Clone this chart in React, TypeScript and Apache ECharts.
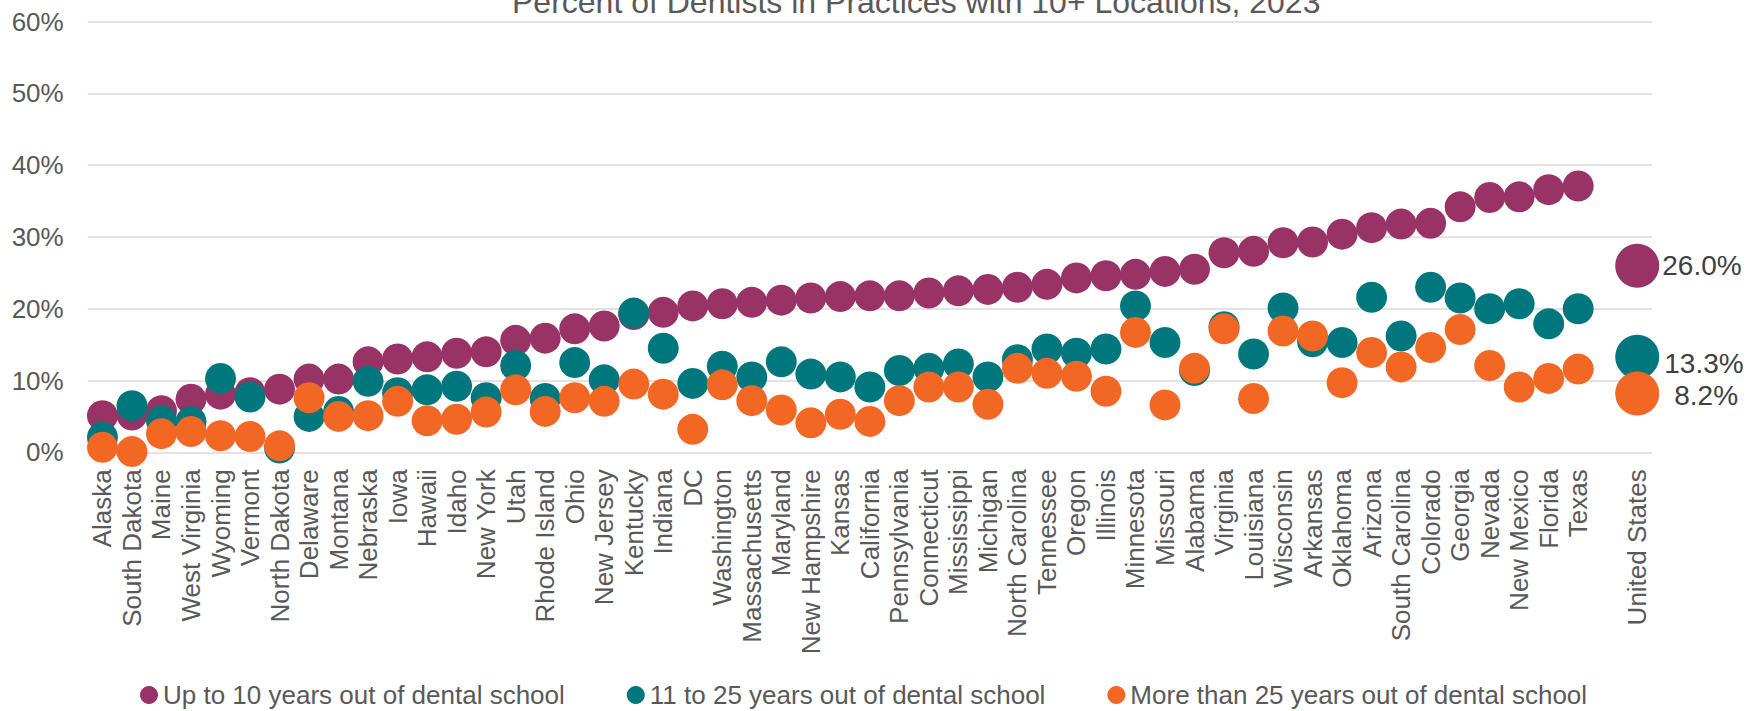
import React, { useEffect, useRef } from "react";
import * as echarts from "echarts";

const states = [
  "Alaska", "South Dakota", "Maine", "West Virginia", "Wyoming", "Vermont", "North Dakota",
  "Delaware", "Montana", "Nebraska", "Iowa", "Hawaii", "Idaho", "New York", "Utah",
  "Rhode Island", "Ohio", "New Jersey", "Kentucky", "Indiana", "DC", "Washington",
  "Massachusetts", "Maryland", "New Hampshire", "Kansas", "California", "Pennsylvania",
  "Connecticut", "Mississippi", "Michigan", "North Carolina", "Tennessee", "Oregon",
  "Illinois", "Minnesota", "Missouri", "Alabama", "Virginia", "Louisiana", "Wisconsin",
  "Arkansas", "Oklahoma", "Arizona", "South Carolina", "Colorado", "Georgia", "Nevada",
  "New Mexico", "Florida", "Texas",
];
const totalLabel = "United States";

const seriesNames = [
  "Up to 10 years out of dental school",
  "11 to 25 years out of dental school",
  "More than 25 years out of dental school",
];

const upTo10 = [
  5.1, 5.2, 5.8, 7.4, 8.1, 8.3, 8.8, 10.2, 10.2, 12.6, 13.0, 13.3, 13.8, 14.0, 15.6,
  15.9, 17.2, 17.6, 19.2, 19.5, 20.4, 20.7, 20.9, 21.2, 21.5, 21.7, 21.8, 21.8, 22.2,
  22.5, 22.7, 23.0, 23.4, 24.3, 24.6, 24.8, 25.2, 25.5, 27.8, 28.0, 29.2, 29.3, 30.4,
  31.3, 31.8, 31.9, 34.2, 35.5, 35.6, 36.6, 37.1,
];
const from11to25 = [
  2.1, 6.5, 4.4, 4.3, 10.3, 7.7, 0.6, 5.0, 5.7, 9.9, 8.3, 8.7, 9.2, 7.6, 12.1, 7.5,
  12.5, 10.1, 19.4, 14.5, 9.6, 12.0, 10.5, 12.6, 10.9, 10.5, 9.1, 11.4, 11.7, 12.3,
  10.5, 12.9, 14.4, 13.8, 14.4, 20.4, 15.3, 11.4, 17.5, 13.7, 20.1, 15.4, 15.3, 21.6,
  16.2, 23.0, 21.5, 20.0, 20.7, 17.9, 20.0,
];
const over25 = [
  0.7, 0.1, 2.6, 2.9, 2.3, 2.2, 0.9, 7.6, 5.0, 5.1, 7.1, 4.4, 4.6, 5.6, 8.7, 5.7, 7.6,
  7.1, 9.5, 8.1, 3.2, 9.4, 7.2, 5.9, 4.1, 5.3, 4.3, 7.2, 9.1, 9.1, 6.7, 11.7, 11.0,
  10.6, 8.5, 16.7, 6.6, 11.7, 17.2, 7.5, 16.9, 16.2, 9.7, 13.9, 11.9, 14.6, 17.1, 12.1,
  9.1, 10.3, 11.6,
];
const usTotals = [26.0, 13.3, 8.2];

const yTicks = [0, 10, 20, 30, 40, 50, 60];
const colors = ["#993366", "#00777D", "#F26724"];
const FONT = "'Liberation Sans', Arial, sans-serif";

export default function App() {
  const ref = useRef<HTMLDivElement>(null);

  useEffect(() => {
    if (!ref.current) return;
    const chart = echarts.init(ref.current, undefined, { renderer: "svg" });
    const categories = [...states, "", totalLabel];
    const labelTweaks = [
      { distance: 3, offset: [0, 0] },
      { distance: 5, offset: [0, 7] },
      { distance: 15, offset: [0, 2] },
    ];
    const all = [upTo10, from11to25, over25];

    const series = all.map((vals, si) => ({
      type: "scatter",
      name: seriesNames[si],
      symbol: "circle",
      symbolSize: 31,
      clip: false,
      itemStyle: { color: colors[si], opacity: 1 },
      data: [
        ...vals,
        "-",
        {
          value: usTotals[si],
          symbolSize: 44,
          label: {
            show: true,
            position: "right",
            distance: labelTweaks[si].distance,
            offset: labelTweaks[si].offset,
            formatter: `${usTotals[si].toFixed(1)}%`,
            fontSize: 28,
            fontFamily: FONT,
            color: "#404040",
          },
        },
      ],
    }));

    chart.setOption({
      animation: false,
      backgroundColor: "#ffffff",
      title: {
        text: "Percent of Dentists in Practices with 10+ Locations, 2023",
        left: 507,
        top: -19,
        textStyle: {
          fontSize: 32,
          fontWeight: "normal",
          fontFamily: FONT,
          color: "#595959",
        },
      },
      legend: {
        data: seriesNames,
        left: 135,
        top: 677,
        icon: "circle",
        itemWidth: 18,
        itemHeight: 18,
        itemGap: 62,
        textStyle: { fontSize: 26, fontFamily: FONT, color: "#595959" },
      },
      grid: { left: 87.7, right: 96, top: 21.7, bottom: 258.7, containLabel: false },
      xAxis: {
        type: "category",
        data: categories,
        boundaryGap: true,
        axisLine: { show: false },
        axisTick: { show: false },
        splitLine: { show: false },
        axisLabel: {
          interval: 0,
          rotate: 90,
          margin: 17,
          fontSize: 26,
          fontFamily: FONT,
          color: "#595959",
        },
      },
      yAxis: {
        type: "value",
        min: yTicks[0],
        max: yTicks[yTicks.length - 1],
        interval: 10,
        axisLine: { show: false },
        axisTick: { show: false },
        splitLine: { show: true, lineStyle: { color: "#d9d9d9", width: 1.5 } },
        axisLabel: {
          formatter: "{value}%",
          margin: 24,
          fontSize: 26,
          fontFamily: FONT,
          color: "#595959",
        },
      },
      series,
    });

    return () => chart.dispose();
  }, []);

  return (
    <div
      ref={ref}
      style={{ position: "absolute", left: 0, top: 0, width: 1748, height: 711 }}
    />
  );
}
